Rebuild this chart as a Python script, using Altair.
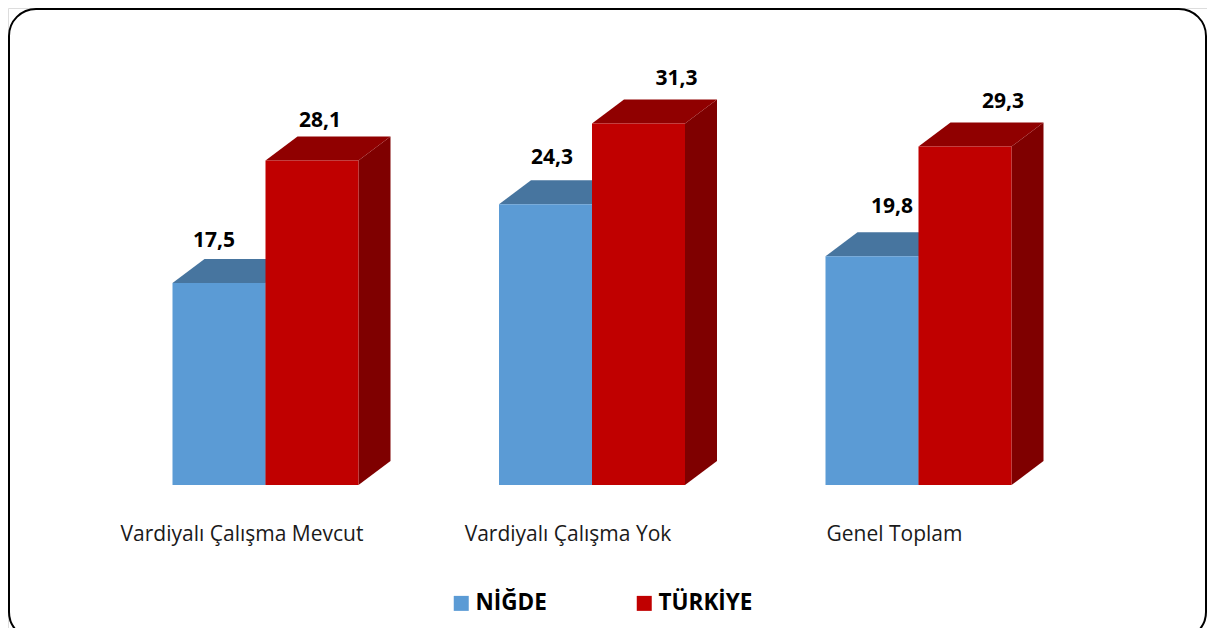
import altair as alt
import pandas as pd

categories = ["Vardiyalı Çalışma Mevcut", "Vardiyalı Çalışma Yok", "Genel Toplam"]
series_names = ["NİĞDE", "TÜRKİYE"]
nigde = [17.5, 24.3, 19.8]
turkiye = [28.1, 31.3, 29.3]
value_labels = {17.5: "17,5", 24.3: "24,3", 19.8: "19,8", 28.1: "28,1", 31.3: "31,3", 29.3: "29,3"}

# layout (pixels inside the svg)
W, H = 1199, 620
UX, UY = 326.5, 11.55          # px per group, px per value
X0, Y0 = 164.5, 477            # first bar's left, baseline
BAR = 93 / UX
DX, DY = 32 / UX, 24 / UY

x_scale = alt.Scale(domain=[-X0 / UX, (W - X0) / UX], nice=False, zero=False)
y_scale = alt.Scale(domain=[-(H - Y0) / UY, Y0 / UY], nice=False, zero=False)

# hand-placed label offsets (px) from bar centre and from bar top
lab_dx = {"NİĞDE": [-5, 6.5, 20], "TÜRKİYE": [8, 38, 38]}
lab_dy = {"NİĞDE": [42, 46, 49], "TÜRKİYE": [39, 44, 45]}
cat_center = [242 - 8, 568 - 8, 894.5 - 8]

front, top, side, labels = [], [], [], []
for s, (name, vals) in enumerate(zip(series_names, [nigde, turkiye])):
    for i, v in enumerate(vals):
        x0 = i + s * BAR
        x1 = x0 + BAR
        key = f"{s}-{i}"
        front.append(dict(k=key, s=s, name=name, x=x0, x2=x1, y=0, y2=v))
        top.append(dict(k=key, s=s, x=x0, x2=x1, y=v))
        top.append(dict(k=key, s=s, x=x0 + DX, x2=x1 + DX, y=v + DY))
        side.append(dict(k=key, s=s, x=x1, y=0, y2=v))
        side.append(dict(k=key, s=s, x=x1 + DX, y=DY, y2=v + DY))
        labels.append(dict(s=s, x=(x0 + x1) / 2 + lab_dx[name][i] / UX,
                           y=v + lab_dy[name][i] / UY, t=value_labels[v]))
front, top, side, labels = map(pd.DataFrame, (front, top, side, labels))
cats = pd.DataFrame(dict(t=categories, x=[(c - X0) / UX for c in cat_center], y=[(Y0 - 527) / UY] * 3))

X = lambda f: alt.X(f, type="quantitative", scale=x_scale, axis=None)
Y = lambda f: alt.Y(f, type="quantitative", scale=y_scale, axis=None)
FONT = "Open Sans"

frame = alt.Chart(pd.DataFrame({"a": [0]})).mark_rect(
    fill="white", stroke="black", strokeWidth=2, cornerRadius=27
).encode(x=alt.value(1), x2=alt.value(1198), y=alt.value(1), y2=alt.value(631))

layers = [frame]
shades = [("#5B9BD5", "#47759F", "#3A6186"), ("#C00000", "#900000", "#7F0000")]
for s, (fc, tc, sc) in enumerate(shades):
    sd = side[side.s == s]
    tp = top[top.s == s]
    fr = front[front.s == s]
    layers.append(alt.Chart(sd).mark_area(color=sc, orient="vertical").encode(
        x=X("x"), y=Y("y"), y2="y2", detail="k:N"))
    layers.append(alt.Chart(tp).mark_area(color=tc, orient="horizontal").encode(
        y=Y("y"), x=X("x"), x2="x2", detail="k:N"))
    layers.append(alt.Chart(fr).mark_rect().encode(
        x=X("x"), x2="x2", y=Y("y"), y2="y2",
        color=alt.Color("name:N",
                        scale=alt.Scale(domain=series_names, range=["#5B9BD5", "#C00000"]),
                        legend=alt.Legend(
                            title=None, orient="none", legendX=442, legendY=584,
                            direction="horizontal", columns=2, columnPadding=86,
                            symbolType="square", symbolSize=225, symbolStrokeWidth=0,
                            labelFont=FONT, labelFontSize=22.5, labelFontWeight="bold",
                            labelColor="black", labelOffset=3, labelLimit=300))))

layers.append(alt.Chart(labels).mark_text(
    font=FONT, fontSize=21, fontWeight="bold", color="black", baseline="middle"
).encode(x=X("x"), y=Y("y"), text="t:N"))
layers.append(alt.Chart(cats).mark_text(
    font=FONT, fontSize=21, color="#1a1a1a", baseline="middle"
).encode(x=X("x"), y=Y("y"), text="t:N"))

chart = alt.layer(*layers).resolve_scale(color="shared").properties(
    width=W, height=H, padding=0, autosize=alt.AutoSizeParams(type="none")
).configure_view(stroke=None).configure(background="white")

chart.save("out.html", embed_options={"renderer": "svg", "actions": False})
